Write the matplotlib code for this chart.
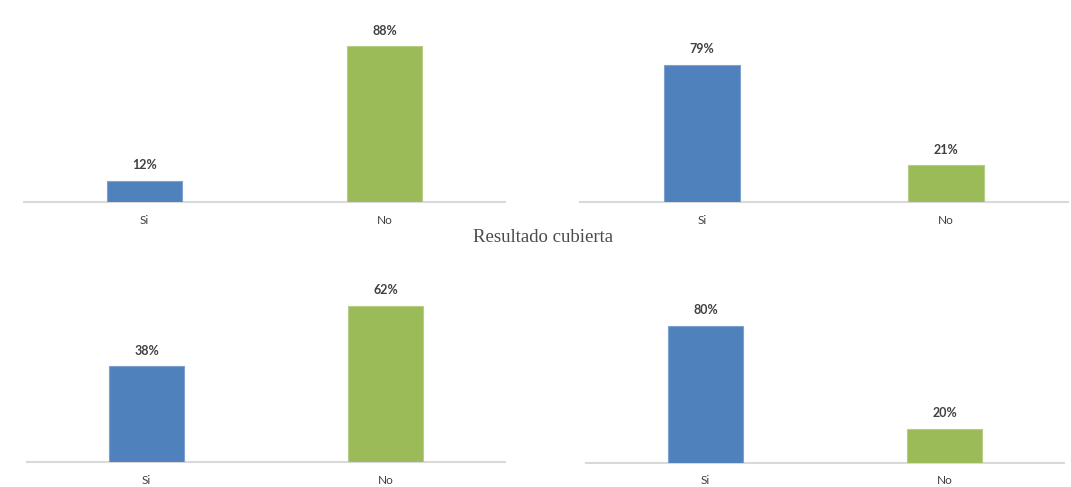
import matplotlib
matplotlib.use("Agg")
import matplotlib.pyplot as plt

categories = ["Si", "No"]
panel_values = {
    "top_left": [0.12, 0.88],
    "top_right": [0.79, 0.21],
    "bottom_left": [0.38, 0.62],
    "bottom_right": [0.80, 0.20],
}
bar_colors = ["#4F81BD", "#9BBB59"]
title = "Resultado cubierta"

W, H = 1071, 487
fig = plt.figure(figsize=(W / 100, H / 100), dpi=100)

# (left px, right px, baseline px, px per 100%)
layout = {
    "top_left": (24, 505, 202, 177),
    "top_right": (580, 1068, 202, 174),
    "bottom_left": (27, 505, 462, 252),
    "bottom_right": (586, 1064, 463, 171),
}

for key, vals in panel_values.items():
    x0, x1, base, scale = layout[key]
    ax = fig.add_axes([x0 / W, (H - base) / H, (x1 - x0) / W, scale / H])
    bars = ax.bar(range(len(categories)), vals, width=0.31, color=bar_colors,
                  edgecolor=["#7EA2CF", "#B5CD85"], linewidth=0.8, zorder=3)
    ax.set_xlim(-0.5, 1.5)
    ax.set_ylim(0, 1.0)
    ax.set_xticks(range(len(categories)))
    ax.set_xticklabels(categories, fontsize=8.5, color="#404040", family="Lato")
    ax.tick_params(axis="x", length=0, pad=9)
    ax.set_yticks([])
    for s in ("top", "left", "right"):
        ax.spines[s].set_visible(False)
    ax.spines["bottom"].set_color("#D9D9D9")
    ax.spines["bottom"].set_linewidth(1.5)
    ax.patch.set_alpha(0)
    for b, v in zip(bars, vals):
        ax.annotate(f"{v:.0%}", (b.get_x() + b.get_width() / 2, v),
                    xytext=(0, 7), textcoords="offset points",
                    ha="center", va="bottom", fontsize=9, fontweight="bold",
                    color="#404040", family="Lato")

fig.text(543 / W, 1 - 238 / H, title, ha="center", va="center",
         fontsize=13.5, family="Liberation Serif", color="#4A4A4A")

fig.savefig("out.png", dpi=100)
